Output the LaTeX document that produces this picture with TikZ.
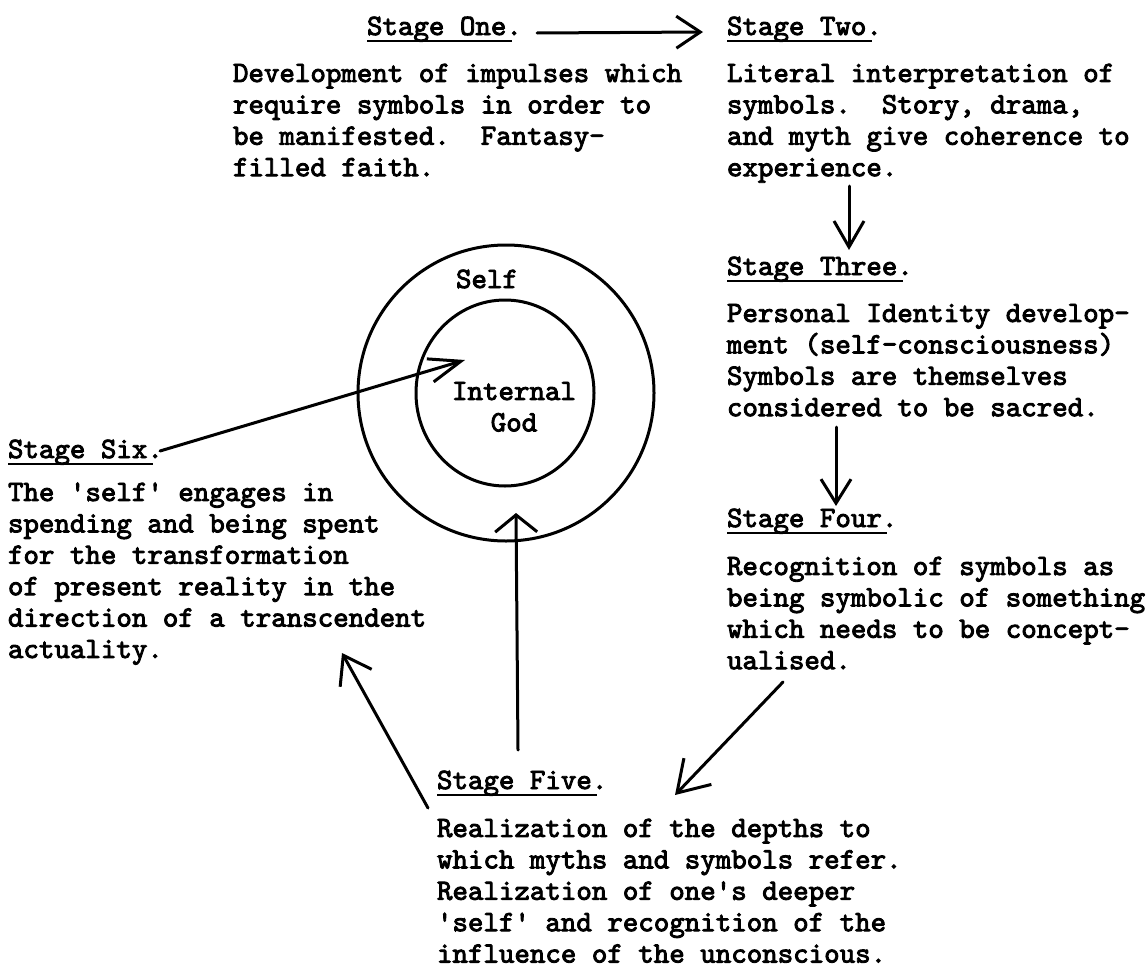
\documentclass[tikz,border=0pt]{standalone}
\usepackage{fontspec}
\newfontfamily\tw{lmmono10-regular.otf}[FakeBold=3]
\usetikzlibrary{arrows.meta,shapes.geometric}
\tikzset{
  tw/.style={font={\fontsize{29.5}{31.4}\selectfont\tw\frenchspacing}, inner sep=0pt, outer sep=0pt},
  title/.style={tw, anchor=base west},
  body/.style={tw, anchor=north west, align=left},
  uline/.style={line width=2.2pt},
  conn/.style={line width=3pt, line cap=round, line join=round},
  ring/.style={draw, line width=3pt, inner sep=0pt},
  barb/.style 2 args={-{Straight Barb[length=#1pt,width=#2pt]}},
}
\begin{document}
\begin{tikzpicture}[x=1pt,y=-1pt]
\useasboundingbox (0,0) rectangle (1148,969);
% titles
\node[title] (t1) at (367,35) {Stage One.};
\node[title] (t2) at (727,35) {Stage Two.};
\node[title] (t3) at (727,275) {Stage Three.};
\node[title] (t4) at (727,527) {Stage Four.};
\node[title] (t5) at (437,789) {Stage Five.};
\node[title] (t6) at (8,458) {Stage Six.};
\foreach \t in {t1,t2,t3,t4,t5,t6}{
  \draw[uline] ([yshift=-6pt]\t.base west) -- ([xshift=-10pt,yshift=-6pt]\t.base east);
}
% bodies (top = baseline - 22)
\node[body] (b1) at (233,82-22) {\strut Development of impulses which\\require symbols in order to\\be manifested.\ \ Fantasy-\\filled faith.};
\node[body] (b2) at (727,82-22) {\strut Literal interpretation of\\symbols.\ \ Story, drama,\\and myth give coherence to\\experience.};
\node[body] (b3) at (727,322-22) {\strut Personal Identity develop-\\ment (self-consciousness)\\Symbols are themselves\\considered to be sacred.};
\node[body] (b4) at (727,575-22) {\strut Recognition of symbols as\\being symbolic of something\\which needs to be concept-\\ualised.};
\node[body] (b5) at (437,837-22) {\strut Realization of the depths to\\which myths and symbols refer.\\Realization of one's deeper\\'self' and recognition of the\\influence of the unconscious.};
\node[body] (b6) at (8,501-22) {\strut The 'self' engages in\\spending and being spent\\for the transformation\\of present reality in the\\direction of a transcendent\\actuality.};
% circles
\node[ring, circle, minimum size=296pt] (outer) at (506,393) {};
\node[ring, ellipse, minimum width=178pt, minimum height=186pt] (inner) at (505,393) {};
\node[tw, anchor=base] (self) at (487,288) {Self};
\node[tw, anchor=north, align=center] (god) at (514,400-22) {\strut Internal\\God};
% connector end points
\coordinate (p1s) at (537,33);  \coordinate (p1e) at (703,32);
\coordinate (p2s) at (849,186); \coordinate (p2e) at (849,250);
\coordinate (p3s) at (836,427); \coordinate (p3e) at (836,506);
\coordinate (p4s) at (783,682); \coordinate (p4e) at (675,795);
\coordinate (p5s) at (428,808); \coordinate (p5e) at (342,653);
\coordinate (p6s) at (518,750); \coordinate (p6e) at (516,513);
\coordinate (p7s) at (160,451); \coordinate (p7e) at (465,360);
\draw[conn, barb={24}{32}] (p1s) -- (p1e);
\draw[conn, barb={26}{30}] (p2s) -- (p2e);
\draw[conn, barb={24}{30}] (p3s) -- (p3e);
\draw[conn, barb={30}{38}] (p4s) -- (p4e);
\draw[conn, barb={26}{36}] (p5s) -- (p5e);
\draw[conn, barb={17}{42}] (p6s) -- (p6e);
\draw[conn, barb={32}{24}] (p7s) -- (p7e);
\end{tikzpicture}
\end{document}
